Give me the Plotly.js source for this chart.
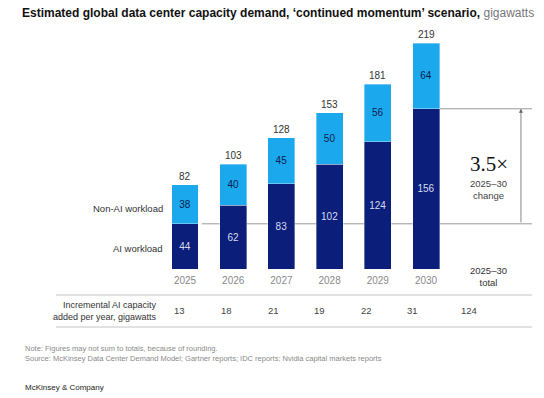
<!DOCTYPE html>
<html>
<head>
<meta charset="utf-8">
<script src="https://cdn.plot.ly/plotly-3.0.1.min.js"></script>
<style>html,body{margin:0;padding:0;background:#fff;}#chart{width:544px;height:398px;}</style>
</head>
<body>
<div id="chart"></div>
<script>
// ---- data ----
const years = ["2025", "2026", "2027", "2028", "2029", "2030"];
const aiWorkload = [44, 62, 83, 102, 124, 156];
const nonAiWorkload = [38, 40, 45, 50, 56, 64];
const totals = [82, 103, 128, 153, 181, 219];
const incrementalAI = [13, 18, 21, 19, 22, 31];
const incrementalTotal = 124;
const changeMultiple = "3.5×";

const DARK = "#0a1e7a";
const LIGHT = "#1ba8ec";
const FONT = "Liberation Sans, Arial, sans-serif";

const xs = years.map((_, i) => i);

const traces = [
  {
    type: "bar", x: xs, y: aiWorkload, name: "AI workload",
    marker: {color: DARK, line: {color: "rgba(255,255,255,0.6)", width: 0.6}},
    width: 0.56,
    text: aiWorkload.map(String), textposition: "inside", insidetextanchor: "middle",
    textfont: {color: "#d6dcf0", size: 10, family: FONT},
    hoverinfo: "skip"
  },
  {
    type: "bar", x: xs, y: nonAiWorkload, name: "Non-AI workload",
    marker: {color: LIGHT, line: {color: "rgba(255,255,255,0.6)", width: 0.6}},
    width: 0.56,
    text: nonAiWorkload.map(String), textposition: "inside", insidetextanchor: "middle",
    textfont: {color: "#0a1e50", size: 10, family: FONT},
    hoverinfo: "skip"
  }
];

// layout geometry helpers (margins l=r=0, plot spans py 20..269)
const W = 544, PT = 20, PB = 269;
const px = v => v / W;
const py = v => (PB - v) / (PB - PT);

const annotations = [];
// totals above bars
xs.forEach((x, i) => {
  annotations.push({x: x, y: aiWorkload[i] + nonAiWorkload[i], xref: "x", yref: "y",
    text: String(totals[i]), showarrow: false, xanchor: "center", yanchor: "bottom", yshift: 1,
    font: {size: 10, color: "#333", family: FONT}});
});
// series labels on the left
annotations.push({x: -0.42, y: 59, xref: "x", yref: "y", text: "Non-AI workload",
  showarrow: false, xanchor: "right", yanchor: "middle", font: {size: 9.5, color: "#333", family: FONT}});
annotations.push({x: -0.42, y: 19.5, xref: "x", yref: "y", text: "AI workload",
  showarrow: false, xanchor: "right", yanchor: "middle", font: {size: 9.5, color: "#333", family: FONT}});
// arrow 2025 AI -> 2030 AI
annotations.push({x: 6.97, y: aiWorkload[5], ax: 6.97, ay: aiWorkload[0], xref: "x", yref: "y",
  axref: "x", ayref: "y", text: "", showarrow: true, arrowhead: 2, arrowsize: 1,
  arrowwidth: 0.8, arrowcolor: "#666", standoff: 0});
annotations.push({x: 6.3, y: 102, xref: "x", yref: "y", text: changeMultiple,
  showarrow: false, xanchor: "center", yanchor: "middle",
  font: {size: 21, color: "#111", family: "Liberation Serif, DejaVu Serif, serif"}});
annotations.push({x: 6.3, y: 77, xref: "x", yref: "y", text: "2025–30<br>change",
  showarrow: false, xanchor: "center", yanchor: "middle", font: {size: 9.5, color: "#444", family: FONT}});
annotations.push({x: px(488), y: py(276.5), xref: "paper", yref: "paper", text: "2025–30<br>total",
  showarrow: false, xanchor: "center", yanchor: "middle", font: {size: 9.5, color: "#333", family: FONT}});
// incremental row
annotations.push({x: px(159), y: py(311), xref: "paper", yref: "paper",
  text: "Incremental AI capacity<br>added per year, gigawatts", align: "right",
  showarrow: false, xanchor: "right", yanchor: "middle", font: {size: 9, color: "#333", family: FONT}});
const incPx = [179, 226, 273, 319, 366, 412];
incrementalAI.forEach((v, i) => {
  annotations.push({x: px(incPx[i]), y: py(311), xref: "paper", yref: "paper",
    text: String(v), showarrow: false, xanchor: "center", yanchor: "middle",
    font: {size: 9.5, color: "#444", family: FONT}});
});
annotations.push({x: px(469), y: py(311), xref: "paper", yref: "paper",
  text: String(incrementalTotal), showarrow: false, xanchor: "center", yanchor: "middle",
  font: {size: 9.5, color: "#444", family: FONT}});
// notes
annotations.push({x: px(23), y: py(353), xref: "paper", yref: "paper", xanchor: "left", yanchor: "middle",
  align: "left", showarrow: false,
  text: "Note: Figures may not sum to totals, because of rounding.<br>Source: McKinsey Data Center Demand Model; Gartner reports; IDC reports; Nvidia capital markets reports",
  font: {size: 7.5, color: "#8a8a8a", family: FONT}});
annotations.push({x: px(23), y: py(387), xref: "paper", yref: "paper", xanchor: "left", yanchor: "middle",
  showarrow: false, text: "McKinsey & Company", font: {size: 8, color: "#222", family: FONT}});

const shapes = [
  {type: "line", xref: "x", yref: "y", x0: 0.35, x1: 7.2, y0: aiWorkload[0], y1: aiWorkload[0],
    line: {color: "#9a9a9a", width: 1}, layer: "below"},
  {type: "line", xref: "x", yref: "y", x0: 5.28, x1: 7.2, y0: aiWorkload[5], y1: aiWorkload[5],
    line: {color: "#9a9a9a", width: 1}, layer: "below"},
  {type: "line", xref: "paper", yref: "paper", x0: px(56), x1: px(532), y0: py(295), y1: py(295),
    line: {color: "#c4c4c4", width: 1}},
  {type: "line", xref: "paper", yref: "paper", x0: px(56), x1: px(532), y0: py(327), y1: py(327),
    line: {color: "#c4c4c4", width: 1}}
];

const layout = {
  width: 544, height: 398,
  margin: {l: 0, r: 0, t: PT, b: 398 - PB, pad: 0},
  paper_bgcolor: "#fff", plot_bgcolor: "#fff",
  barmode: "stack", showlegend: false,
  title: {
    text: "<b>Estimated global data center capacity demand, ‘continued momentum’ scenario,</b> <span style='color:#777'>gigawatts</span>",
    x: 22 / 544, xanchor: "left", xref: "container",
    y: 1 - 13 / 398, yanchor: "middle", yref: "container",
    font: {size: 12, color: "#111", family: FONT}
  },
  xaxis: {
    range: [-3.838, 7.448], tickvals: xs, ticktext: years,
    showgrid: false, zeroline: false, showline: false, ticks: "",
    ticklabelstandoff: 4,
    tickfont: {size: 10, color: "#8a8a8a", family: FONT}, fixedrange: true
  },
  yaxis: {range: [0, (PB - PT) / 1.027], visible: false, fixedrange: true},
  annotations: annotations, shapes: shapes,
  uniformtext: {mode: false}
};

Plotly.newPlot("chart", traces, layout, {displayModeBar: false, staticPlot: true});
</script>
</body>
</html>
